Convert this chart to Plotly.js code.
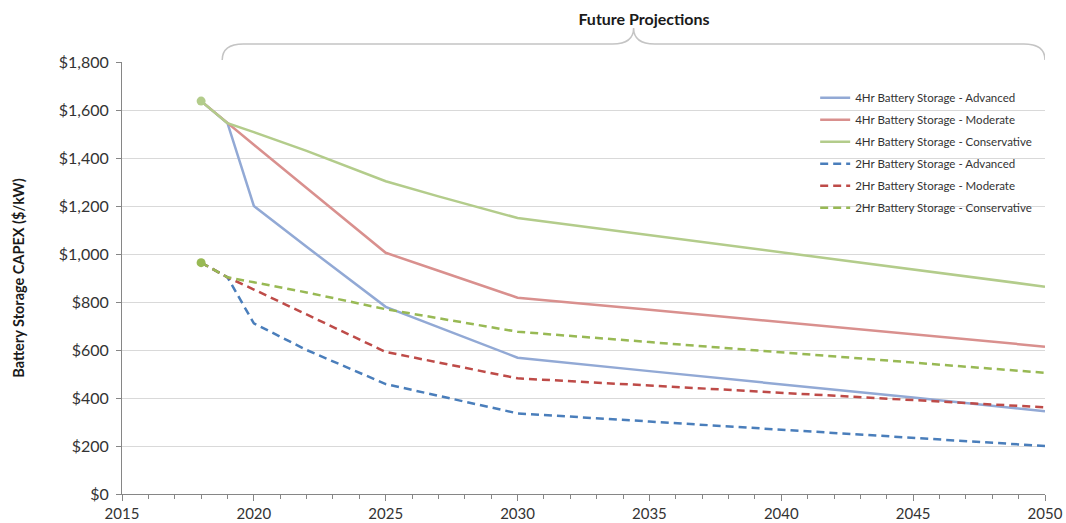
<!DOCTYPE html>
<html>
<head>
<meta charset="utf-8">
<script src="https://cdn.plot.ly/plotly-3.0.1.min.js"></script>
<style>
  html, body { margin: 0; padding: 0; background: #ffffff; }
  #chart { width: 1066px; height: 523px; }
</style>
</head>
<body>
<div id="chart"></div>
<script>
// ---- Data ----
const years = [2018, 2019, 2020, 2022, 2025, 2027, 2030, 2035, 2040, 2045, 2050];

const hr4Advanced     = [1637, 1545, 1200, 1030, 780, 695, 568, 512, 458, 402, 345];
const hr4Moderate     = [1637, 1545, 1455, 1275, 1005, 930, 818, 768, 716, 665, 614];
const hr4Conservative = [1637, 1545, 1508, 1430, 1303, 1240, 1150, 1078, 1007, 935, 864];
const hr2Advanced     = [964, 903, 711, 600, 458, 408, 336, 302, 268, 234, 200];
const hr2Moderate     = [964, 903, 852, 748, 592, 548, 482, 452, 422, 391, 361];
const hr2Conservative = [964, 903, 882, 840, 770, 732, 676, 633, 591, 548, 505];

const seriesNames = [
  '4Hr Battery Storage - Advanced',
  '4Hr Battery Storage - Moderate',
  '4Hr Battery Storage - Conservative',
  '2Hr Battery Storage - Advanced',
  '2Hr Battery Storage - Moderate',
  '2Hr Battery Storage - Conservative'
];
const chartTitle = 'Future Projections';
const yTitle = 'Battery Storage CAPEX ($/kW)';

// ---- Styles ----
const FONT = 'Lato, "Noto Sans", sans-serif';
const styles = [
  {color: '#92A9D5', dash: 'solid'},
  {color: '#D9908E', dash: 'solid'},
  {color: '#B3CC8B', dash: 'solid'},
  {color: '#4A7EBB', dash: '8px,5px'},
  {color: '#BE4B48', dash: '8px,5px'},
  {color: '#98B954', dash: '8px,5px'}
];
const allSeries = [hr4Advanced, hr4Moderate, hr4Conservative, hr2Advanced, hr2Moderate, hr2Conservative];

const traces = allSeries.map((vals, i) => ({
  type: 'scatter',
  mode: 'lines',
  x: years,
  y: vals,
  name: seriesNames[i],
  legendgroup: 'g' + i,
  line: {color: styles[i].color, width: 2.5, dash: styles[i].dash},
  hoverinfo: 'x+y+name'
}));

// Starting-point dots (first year of the conservative series)
[2, 5].forEach(i => {
  traces.push({
    type: 'scatter',
    mode: 'markers',
    x: [years[0]],
    y: [allSeries[i][0]],
    showlegend: false,
    marker: {color: styles[i].color, size: 9},
    hoverinfo: 'skip'
  });
});

const layout = {
  width: 1066,
  height: 523,
  margin: {l: 122, r: 21, t: 62, b: 29},
  paper_bgcolor: '#ffffff',
  plot_bgcolor: '#ffffff',
  font: {family: FONT, color: '#333333'},
  showlegend: true,
  title: {
    text: '<b>' + chartTitle + '</b>',
    font: {family: FONT, size: 16, color: '#1a1a1a'},
    x: 644 / 1066,
    xanchor: 'center',
    xref: 'container',
    y: 1 - 19 / 523,
    yanchor: 'middle',
    yref: 'container'
  },
  xaxis: {
    range: [2015, 2050],
    tick0: 2015,
    dtick: 5,
    showgrid: false,
    zeroline: false,
    showline: true,
    linecolor: '#868686',
    linewidth: 1,
    ticks: 'outside',
    ticklen: 6,
    tickcolor: '#868686',
    tickfont: {family: FONT, size: 15, color: '#333333'},
    minor: {dtick: 1, ticks: 'outside', ticklen: 4, tickcolor: '#868686', showgrid: false},
    fixedrange: true
  },
  yaxis: {
    range: [0, 1800],
    tick0: 0,
    dtick: 200,
    tickprefix: '$',
    tickformat: ',d',
    showgrid: true,
    gridcolor: '#D9D9D9',
    gridwidth: 1,
    zeroline: false,
    showline: true,
    linecolor: '#868686',
    linewidth: 1,
    ticks: 'outside',
    ticklen: 5,
    tickcolor: '#868686',
    ticklabelstandoff: 4,
    tickfont: {family: FONT, size: 16, color: '#333333'},
    title: {
      text: '<b>' + yTitle + '</b>',
      font: {family: FONT, size: 14.5, color: '#1a1a1a'},
      standoff: 30
    },
    automargin: false,
    fixedrange: true
  },
  legend: {
    x: 0.751,
    y: 0.951,
    xanchor: 'left',
    yanchor: 'top',
    bgcolor: 'rgba(0,0,0,0)',
    borderwidth: 0,
    traceorder: 'grouped',
    tracegroupgap: 3,
    font: {family: FONT, size: 11.5, color: '#333333'}
  },
  shapes: [{
    type: 'path',
    xref: 'x',
    yref: 'paper',
    path: 'M 2018.8,1.0046 Q 2018.8,1.0417 2019.6,1.0417 L 2033.6,1.0417 Q 2034.4,1.0417 2034.4,1.0787 ' +
          'Q 2034.4,1.0417 2035.2,1.0417 L 2049.2,1.0417 Q 2050,1.0417 2050,1.0046',
    line: {color: '#C4C4C4', width: 1.5}
  }]
};

Plotly.newPlot('chart', traces, layout, {displayModeBar: false, staticPlot: true});
</script>
</body>
</html>
